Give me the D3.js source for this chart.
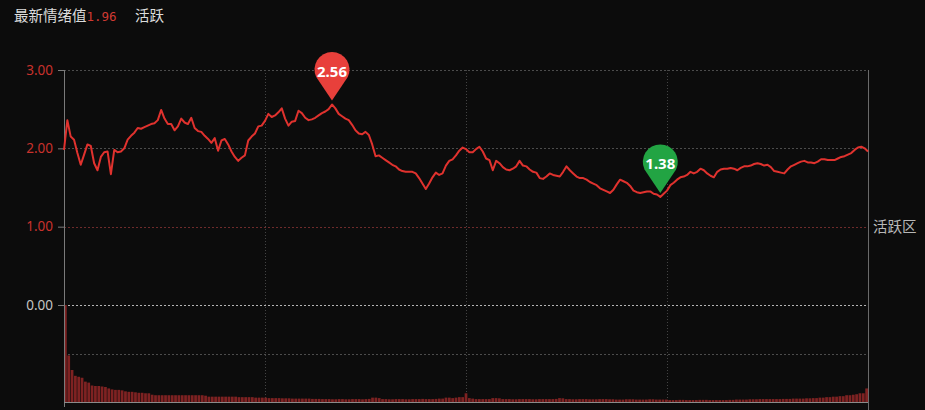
<!DOCTYPE html>
<html>
<head>
<meta charset="utf-8">
<script src="https://cdn.jsdelivr.net/npm/d3@7"></script>
<style>
  html, body { margin: 0; padding: 0; background: #0c0c0c; }
  svg { display: block; }
  text { font-family: "Noto Sans CJK SC", "Noto Sans", sans-serif; }
</style>
</head>
<body>
<svg id="chart" width="925" height="410"></svg>
<script>
// Sentiment value per trading day (index = day)
const sentiment = [
  1.98, 2.36, 2.15, 2.11, 1.94, 1.79, 1.92, 2.05, 2.03, 1.81,
  1.72, 1.89, 1.95, 1.96, 1.67, 1.98, 1.95, 1.96, 2.00, 2.11,
  2.16, 2.20, 2.26, 2.25, 2.27, 2.29, 2.31, 2.32, 2.36, 2.49,
  2.38, 2.31, 2.31, 2.23, 2.28, 2.38, 2.33, 2.31, 2.39, 2.26,
  2.22, 2.21, 2.16, 2.12, 2.07, 2.13, 1.97, 2.10, 2.12, 2.05,
  1.96, 1.89, 1.84, 1.88, 1.91, 2.10, 2.15, 2.19, 2.28, 2.29,
  2.35, 2.44, 2.40, 2.42, 2.46, 2.51, 2.38, 2.29, 2.34, 2.35,
  2.48, 2.45, 2.39, 2.36, 2.37, 2.39, 2.42, 2.45, 2.47, 2.50,
  2.56, 2.51, 2.44, 2.41, 2.38, 2.36, 2.30, 2.23, 2.19, 2.18,
  2.21, 2.17, 2.05, 1.90, 1.91, 1.88, 1.85, 1.82, 1.79, 1.77,
  1.73, 1.71, 1.70, 1.70, 1.70, 1.68, 1.62, 1.55, 1.48, 1.55,
  1.63, 1.69, 1.66, 1.68, 1.78, 1.84, 1.86, 1.91, 1.97, 2.01,
  1.99, 1.95, 1.95, 1.99, 2.02, 1.96, 1.87, 1.85, 1.72, 1.84,
  1.81, 1.76, 1.73, 1.72, 1.74, 1.77, 1.84, 1.78, 1.77, 1.73,
  1.70, 1.69, 1.62, 1.61, 1.64, 1.68, 1.66, 1.65, 1.64, 1.70,
  1.77, 1.72, 1.68, 1.64, 1.62, 1.62, 1.60, 1.57, 1.55, 1.53,
  1.49, 1.47, 1.45, 1.43, 1.47, 1.54, 1.60, 1.58, 1.56, 1.52,
  1.46, 1.44, 1.43, 1.44, 1.45, 1.45, 1.42, 1.41, 1.38, 1.42,
  1.46, 1.53, 1.56, 1.60, 1.63, 1.64, 1.66, 1.70, 1.68, 1.70,
  1.74, 1.72, 1.68, 1.65, 1.63, 1.70, 1.73, 1.74, 1.74, 1.75,
  1.74, 1.72, 1.75, 1.77, 1.77, 1.78, 1.80, 1.81, 1.80, 1.78,
  1.79, 1.76, 1.71, 1.70, 1.69, 1.68, 1.73, 1.77, 1.79, 1.81,
  1.83, 1.84, 1.82, 1.82, 1.81, 1.83, 1.86, 1.86, 1.85, 1.85,
  1.85, 1.87, 1.89, 1.90, 1.92, 1.94, 1.98, 2.01, 2.02, 2.00,
  1.96
];

// Lower pane bars (relative, first day = 100)
const volume = [
  100, 48, 33, 27, 26, 25, 21, 20, 17, 16.5,
  16.5, 16, 15.5, 14, 13, 12.5, 12.5, 12, 11, 10.5,
  10.5, 10, 9.5, 9.5, 9, 9, 7.5, 7, 7, 7,
  7, 7, 7, 7, 7, 7, 7, 7, 7, 7,
  7, 7, 6.5, 5.5, 5.5, 5.5, 5.5, 5.5, 5.5, 5.5,
  5.5,
  5.5, 5, 5, 5, 5, 5, 4.5, 4.5, 4.5, 4.5,
  4, 4, 4, 4, 3.8, 3.8, 3.8, 3.5, 3.5, 3.5, 3.5, 3.5, 3.5, 3.2, 3.2, 3.2,
  3, 3, 3, 2.8, 2.8, 3, 3, 2.8, 2.8, 3, 3, 3, 2.8, 3, 3.2,
  4.5, 4.5, 4,
  3, 3, 2.8, 2.8, 3, 3, 3, 2.8, 2.8, 3, 3, 3, 3.2, 3, 3, 3, 3.2, 3.5, 3.5,
  4.5, 4.5, 4, 4.5, 5, 5,
  9,
  4, 3.5, 3, 3, 3, 3, 3,
  4, 4, 3.8,
  3, 3, 3, 2.8, 2.8, 3, 3, 3, 3, 2.8, 2.8, 3, 3, 3, 3, 3, 3.2,
  4, 3.8,
  3, 3, 2.8, 2.8, 3, 3, 3, 2.8, 2.8, 2.8, 3, 3, 3, 2.8, 2.8, 2.5,
  2.5, 2.5, 2.8, 2.8, 2.8, 2.5, 2.5, 2.5, 2.5, 2.8, 2.8, 2.5, 2.5, 2.5, 2.5,
  2, 2, 2, 2.2, 2.2, 2, 2, 2, 2, 2.2, 2.2, 2.2, 2, 2, 2,
  2, 2, 2, 2.2, 2.2, 2.5, 2.5, 2.5, 2.5, 2.8, 2.8, 2.8, 3, 3,
  3, 3, 3, 3, 3, 3.2, 3.2, 3.2, 3.5, 3.5, 3.5, 3.5, 3.8, 3.8, 4,
  4, 4.5, 4.5, 5, 5,
  5.5, 5.5, 6, 6,
  7, 7, 7.5,
  8, 9, 9,
  14
];

const yTicks = [3, 2, 1, 0];
const latestValue = '1.96';
const latestState = '活跃';
const zoneLabel = '活跃区';
const titleLabel = '最新情绪值';

const svg = d3.select('#chart');

const plotLeft = 64, plotRight = 868, plotTop = 70, zeroY = 305, plotBottom = 402;

const x = d3.scaleLinear()
  .domain([0, sentiment.length - 1])
  .range([plotLeft, plotRight]);

const y = d3.scaleLinear()
  .domain([0, 3])
  .range([zeroY, plotTop]);

const band = d3.scaleBand()
  .domain(d3.range(volume.length))
  .range([plotLeft, plotRight])
  .paddingInner(0.18);

const vy = d3.scaleLinear()
  .domain([0, 100])
  .range([plotBottom, zeroY]);

// Header
const header = svg.append('text')
  .attr('x', 14)
  .attr('y', 21)
  .attr('font-size', 14.5);
header.append('tspan').attr('fill', '#dcdcdc').text(titleLabel);
header.append('tspan')
  .attr('fill', '#d03a32')
  .style('font-family', '"DejaVu Sans Mono", monospace')
  .attr('font-size', 12.5)
  .text(latestValue);
svg.append('text')
  .attr('x', 135)
  .attr('y', 21)
  .attr('font-size', 14.5)
  .attr('fill', '#dcdcdc')
  .text(latestState);

// Horizontal grid
const grid = svg.append('g');
yTicks.forEach(t => {
  grid.append('line')
    .attr('x1', plotLeft).attr('x2', plotRight)
    .attr('y1', Math.round(y(t)) + 0.5).attr('y2', Math.round(y(t)) + 0.5)
    .attr('stroke', t === 1 ? '#6e2b2b' : (t === 0 ? '#b5b5b5' : '#4c4c4c'))
    .attr('stroke-width', 1)
    .attr('stroke-dasharray', '2,2');
});
grid.append('line')
  .attr('x1', plotLeft).attr('x2', plotRight)
  .attr('y1', Math.round(vy(50)) + 0.5).attr('y2', Math.round(vy(50)) + 0.5)
  .attr('stroke', '#4c4c4c')
  .attr('stroke-dasharray', '2,2');

// Vertical grid (quarters)
[1, 2, 3].forEach(q => {
  const gx = Math.round(x((sentiment.length - 1) * q / 4)) + 0.5;
  grid.append('line')
    .attr('x1', gx).attr('x2', gx)
    .attr('y1', plotTop).attr('y2', plotBottom)
    .attr('stroke', '#444')
    .attr('stroke-dasharray', '1,2');
});

// Bars
svg.append('g')
  .selectAll('rect')
  .data(volume)
  .join('rect')
    .attr('x', (d, i) => band(i))
    .attr('y', d => vy(d))
    .attr('width', band.bandwidth())
    .attr('height', d => plotBottom - vy(d))
    .attr('fill', '#7e2222');

// Axes lines
svg.append('line')
  .attr('x1', plotLeft + 0.5).attr('x2', plotLeft + 0.5)
  .attr('y1', plotTop).attr('y2', 407)
  .attr('stroke', '#7a7a7a');
svg.append('line')
  .attr('x1', plotRight + 0.5).attr('x2', plotRight + 0.5)
  .attr('y1', plotTop).attr('y2', 410)
  .attr('stroke', '#6a6a6a');
svg.append('line')
  .attr('x1', plotLeft).attr('x2', plotRight)
  .attr('y1', plotBottom + 0.5).attr('y2', plotBottom + 0.5)
  .attr('stroke', '#8a8a8a');

// Y axis ticks and labels
const yAxis = svg.append('g')
  .attr('transform', `translate(${plotLeft},0)`)
  .call(d3.axisLeft(y).tickValues(yTicks).tickFormat(d3.format('.2f')).tickSize(6).tickPadding(5));
yAxis.select('.domain').remove();
yAxis.selectAll('.tick line').attr('stroke', '#7a7a7a');
yAxis.selectAll('.tick text')
  .attr('font-size', 13.5)
  .style('font-family', '"Noto Sans", sans-serif')
  .attr('fill', d => d === 0 ? '#c4c4c4' : '#c8322c');

// Zone label
svg.append('text')
  .attr('x', 873)
  .attr('y', y(1))
  .attr('dy', '0.35em')
  .attr('font-size', 14.5)
  .attr('fill', '#b8b8b8')
  .text(zoneLabel);

// Sentiment line
svg.append('path')
  .datum(sentiment)
  .attr('fill', 'none')
  .attr('stroke', '#e0322e')
  .attr('stroke-width', 2)
  .attr('stroke-linejoin', 'round')
  .attr('d', d3.line().x((d, i) => x(i)).y(d => y(d)));

// Pins for max and min
const pin = (i, color) => {
  const px = x(i), py = y(sentiment[i]) - 4;
  const r = 17.5, cy = py - 31;
  const g = svg.append('g');
  const p = d3.path();
  const a = Math.acos(r / (py - cy)) + 0.15;
  p.moveTo(px, py);
  p.lineTo(px - r * Math.sin(a), cy + r * Math.cos(a));
  p.arc(px, cy, r, Math.PI / 2 + a, Math.PI / 2 - a + 2 * Math.PI);
  p.closePath();
  g.append('path').attr('d', p.toString()).attr('fill', color);
  g.append('text')
    .attr('x', px)
    .attr('y', cy + 2)
    .attr('dy', '0.35em')
    .attr('text-anchor', 'middle')
    .attr('font-size', 15)
    .attr('font-weight', 'bold')
    .style('font-family', '"Noto Sans", sans-serif')
    .attr('fill', '#fff')
    .text(sentiment[i].toFixed(2));
};
pin(d3.maxIndex(sentiment), '#e8403b');
pin(d3.minIndex(sentiment), '#22a443');
</script>
</body>
</html>
